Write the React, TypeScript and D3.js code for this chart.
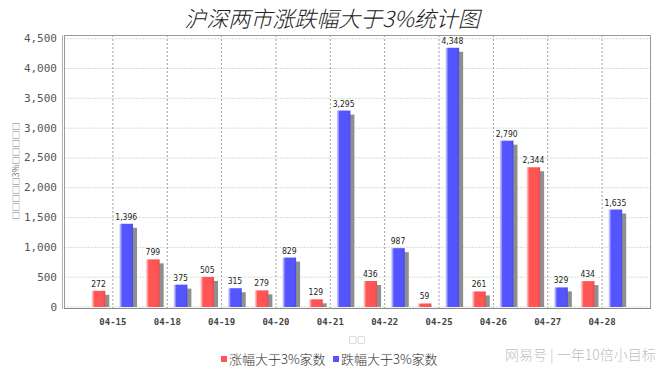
import * as d3 from "d3";

const WIDTH = 660;
const HEIGHT = 371;
const PLOT = { left: 64, right: 651, top: 35, bottom: 307 };

const categories = ["04-15", "04-18", "04-19", "04-20", "04-21", "04-22", "04-25", "04-26", "04-27", "04-28"];
const upCounts = [272, 799, 505, 279, 129, 436, 59, 261, 2344, 434];
const downCounts = [1396, 375, 315, 829, 3295, 987, 4348, 2790, 329, 1635];
const seriesNames = ["涨幅大于3%家数", "跌幅大于3%家数"];
const seriesColors = ["#ff5555", "#5555ff"];
const yTicks = [0, 500, 1000, 1500, 2000, 2500, 3000, 3500, 4000, 4500];

const CJK = "'Noto Sans CJK SC', 'Noto Sans', sans-serif";
const MONO = "'DejaVu Sans Mono', 'Liberation Mono', monospace";
const SMALL = "'DejaVu Sans Condensed', 'Liberation Sans Narrow', 'DejaVu Sans', sans-serif";

const App = () => {
  const xScale = d3
    .scaleBand<string>()
    .domain(categories)
    .range([PLOT.left, PLOT.right])
    .paddingInner(0)
    .paddingOuter(0.4);

  // red / blue bar inside each category
  const inner = d3
    .scaleBand<number>()
    .domain([0, 1])
    .range([xScale.bandwidth() * 0.11, xScale.bandwidth() * 0.87])
    .paddingInner(0.51);

  const yScale = d3.scaleLinear().domain([0, 4562]).range([PLOT.bottom, PLOT.top]);

  const series = [upCounts, downCounts];
  const fmt = d3.format(",");

  const bars = categories.flatMap((cat, i) =>
    series.map((vals, s) => {
      const x = (xScale(cat) ?? 0) + (inner(s) ?? 0);
      const w = inner.bandwidth();
      const y = yScale(vals[i]);
      const h = yScale(0) - y;
      return (
        <g key={`${cat}-${s}`}>
          {/* shadow */}
          <rect x={x + 4} y={y + 4} width={w} height={Math.max(0, h - 4)} fill="#8f8f8f" />
          <rect x={x} y={y} width={w} height={h} fill={`url(#grad${s})`} />
          <text
            x={x + w / 2}
            y={y - 4}
            textAnchor="middle"
            fontSize={8.5}
            fontFamily={SMALL}
            fill="#222"
          >
            {fmt(vals[i])}
          </text>
        </g>
      );
    })
  );

  return (
    <svg width={WIDTH} height={HEIGHT} style={{ position: "absolute", left: 0, top: 0 }}>
      <defs>
        {seriesColors.map((c, s) => (
          <linearGradient key={s} id={`grad${s}`} x1="0" x2="1" y1="0" y2="0">
            <stop offset="0%" stopColor={d3.interpolateRgb(c, "#ffffff")(0.75)} />
            <stop offset="10%" stopColor={d3.interpolateRgb(c, "#ffffff")(0.45)} />
            <stop offset="20%" stopColor={c} />
            <stop offset="80%" stopColor={c} />
            <stop offset="100%" stopColor={d3.rgb(c).darker(0.3).formatHex()} />
          </linearGradient>
        ))}
      </defs>
      <rect width={WIDTH} height={HEIGHT} fill="#ffffff" />

      {/* title */}
      <text
        x={332}
        y={27}
        textAnchor="middle"
        fontSize={22}
        fontStyle="italic"
        fontWeight={300}
        fontFamily={CJK}
        fill="#222"
      >
        沪深两市涨跌幅大于3%统计图
      </text>

      {/* horizontal grid */}
      {yTicks.map((t) => (
        <g key={t}>
          <line
            x1={PLOT.left}
            x2={PLOT.right}
            y1={yScale(t)}
            y2={yScale(t)}
            stroke="#cfe3cf"
            strokeDasharray="2,1"
          />
          <text
            x={57}
            y={yScale(t)}
            textAnchor="end"
            dominantBaseline="central"
            fontSize={11}
            fontFamily={MONO}
            fill="#555"
          >
            {fmt(t)}
          </text>
        </g>
      ))}

      {/* vertical grid */}
      {categories.map((cat) => {
        const cx = (xScale(cat) ?? 0) + xScale.bandwidth() / 2;
        return (
          <g key={cat}>
            <line
              x1={cx}
              x2={cx}
              y1={PLOT.top}
              y2={PLOT.bottom + 1}
              stroke="#a0a0a0"
              strokeDasharray="2,2"
            />
            <text
              x={cx}
              y={325}
              textAnchor="middle"
              fontSize={9}
              fontWeight="bold"
              fontFamily={MONO}
              fill="#444"
            >
              {cat}
            </text>
          </g>
        );
      })}

      {bars}

      {/* plot outline */}
      <rect
        x={PLOT.left + 0.5}
        y={PLOT.top + 0.5}
        width={PLOT.right - PLOT.left - 1}
        height={PLOT.bottom + 1 - PLOT.top}
        fill="none"
        stroke="#9a9a9a"
      />
      <line x1={PLOT.left - 1.5} x2={PLOT.left - 1.5} y1={PLOT.top} y2={PLOT.bottom + 2} stroke="#b0b0b0" />
      <line x1={PLOT.left} x2={PLOT.right} y1={PLOT.bottom + 1.5} y2={PLOT.bottom + 1.5} stroke="#8a8a8a" />

      {/* axis labels */}
      <text x={357} y={343} textAnchor="middle" fontSize={8.5} fontFamily={CJK} fill="#888">
        □□
      </text>
      <text
        transform={`translate(15, ${(PLOT.top + PLOT.bottom) / 2}) rotate(-90)`}
        textAnchor="middle"
        dominantBaseline="central"
        fontSize={8.5}
        fontFamily={CJK}
        fill="#777"
      >
        □□□□□3%□□□□□
      </text>

      {/* legend */}
      {seriesNames.map((name, s) => {
        const lx = s === 0 ? 221 : 333;
        return (
          <g key={name}>
            <rect x={lx} y={356} width={6} height={6} fill={seriesColors[s]} />
            <text x={lx + 8} y={363.5} fontSize={13} fontWeight={300} fontFamily={CJK} fill="#333">
              {name}
            </text>
          </g>
        );
      })}

      {/* watermark */}
      <text x={505} y={360} fontSize={14} fontWeight={300} fontFamily={CJK} fill="#c0c0c0">
        网易号 | 一年10倍小目标
      </text>
    </svg>
  );
};

export default App;
